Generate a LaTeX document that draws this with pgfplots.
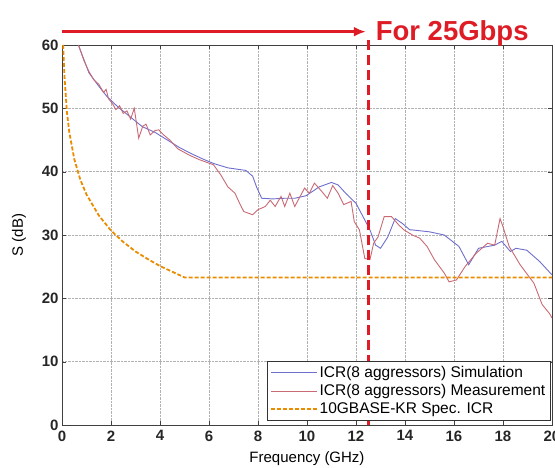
\documentclass[border=0pt]{standalone}
\usepackage{fontspec}
\setmainfont{Liberation Sans}
\usepackage{pgfplots}
\pgfplotsset{compat=1.18}
\usetikzlibrary{arrows.meta}
\definecolor{simblue}{RGB}{110,110,205}
\definecolor{measred}{RGB}{200,105,115}
\definecolor{specorange}{RGB}{235,140,0}
\definecolor{markred}{RGB}{222,28,38}
\begin{document}
\begin{tikzpicture}
\begin{axis}[
  scale only axis,
  width=490pt, height=380pt,
  xmin=0, xmax=20, ymin=0, ymax=60,
  xtick={0,2,...,20}, ytick={0,10,...,60},
  grid=major,
  major grid style={densely dotted, gray!60, line width=0.7pt},
  axis line style={black!75, line width=0.8pt},
  tick align=inside, major tick length=4pt,
  tick style={black!75},
  /pgf/number format/assume math mode=true,
  ticklabel style={font=\bfseries\fontsize{15}{17}\selectfont, text=black!85},
  xticklabel style={yshift=-2pt},
  xlabel={Frequency (GHz)}, ylabel={S (dB)},
  label style={font=\fontsize{15}{17}\selectfont},
  xlabel style={yshift=-4pt},
  ylabel style={yshift=9pt},
  clip mode=individual,
  legend style={at={(0.997,0.012)}, anchor=south east, draw=black!80, fill=white,
    font=\fontsize{15.5}{18}\selectfont, row sep=1.5pt, inner sep=3pt, cells={anchor=west}},
  legend image code/.code={\draw[#1] plot coordinates {(0cm,0cm) (1.6cm,0cm)};},
]
\addplot[simblue, line width=0.9pt] coordinates {
(0.67,60) (1.1,55.6) (1.5,53.5) (1.83,51.9) (2.26,50.3) (2.8,48.6) (3.28,47.1) (3.8,46.2)
(4.3,45.0) (4.8,43.8) (5.3,42.8) (5.75,42.0) (6.18,41.3) (6.77,40.6) (7.5,40.2) (7.78,39.3)
(7.95,37.5) (8.15,35.8) (8.6,35.7) (9.09,35.8) (9.5,35.8) (9.96,36.2) (10.5,37.6) (11.0,38.3)
(11.27,37.9) (11.6,36.5) (12.0,35.0) (12.3,32.8) (12.57,30.8) (12.8,28.4) (13.0,27.9) (13.3,29.7)
(13.6,32.6) (13.9,31.8) (14.2,30.8) (14.3,30.8) (15.0,30.5) (15.6,30.0) (16.2,28.2) (16.6,25.3)
(17.0,27.9) (17.66,28.4) (17.95,29.0) (18.3,27.4) (18.53,27.9) (18.97,27.6) (19.5,25.8) (20,23.7)
};
\addlegendentry{ICR(8 aggressors) Simulation}
\addplot[measred, line width=0.9pt] coordinates {
(0.67,60) (0.9,57.5) (1.1,55.8) (1.3,54.5) (1.5,53.8) (1.7,52.5) (1.8,53.0) (1.9,51.5)
(2.05,50.8) (2.2,49.8) (2.35,50.4) (2.5,49.2) (2.65,49.6) (2.8,48.3) (2.95,50.0) (3.13,45.3)
(3.3,47.2) (3.43,47.5) (3.6,45.8) (3.8,46.5) (3.95,46.6) (4.15,45.8) (4.4,45.0) (4.73,43.6)
(5.2,42.6) (5.6,41.9) (6.18,41.1) (6.48,39.5) (6.77,37.6) (7.06,36.6) (7.25,35.0) (7.42,33.7)
(7.78,33.2) (8.0,34.0) (8.3,34.5) (8.5,35.5) (8.7,34.5) (8.94,36.1) (9.09,34.5) (9.3,36.6)
(9.5,34.5) (9.9,37.4) (10.1,36.6) (10.3,38.2) (10.6,36.9) (10.83,35.8) (11.05,37.8) (11.27,36.6)
(11.5,34.8) (11.8,35.3) (11.93,32.1) (12.14,30.8) (12.36,26.3) (12.57,26.1) (12.72,28.7) (12.9,29.7)
(13.15,32.9) (13.45,32.9) (13.74,31.6) (13.96,30.8) (14.3,30.0) (14.6,29.5) (14.9,28.2) (15.2,26.1)
(15.6,24.0) (15.8,22.6) (16.1,22.9) (16.45,25.0) (16.9,27.1) (17.37,28.7) (17.66,28.4) (17.88,32.6)
(18.0,31.3) (18.25,28.2) (18.7,25.3) (19.26,22.4) (19.6,19.0) (19.9,17.6) (20,16.9)
};
\addlegendentry{ICR(8 aggressors) Measurement}
\addplot[specorange, line width=1.8pt, dash pattern=on 4pt off 2pt] coordinates {
(0.046,60) (0.1,55.1) (0.2,49.4) (0.3,46.2) (0.5,42.0) (0.75,38.7) (1,36.4) (1.5,33.1)
(2,30.7) (2.5,28.9) (3,27.4) (3.5,26.2) (4,25.1) (4.5,24.2) (5,23.3) (20,23.3)
};
\addlegendentry{10GBASE-KR Spec. ICR}
\draw[markred, line width=2.6pt, dash pattern=on 10pt off 5pt] (axis cs:12.5,0) -- (axis cs:12.5,60.8);
\draw[markred, line width=2.6pt, -{Latex[length=12pt,width=10pt]}] (axis cs:0,62.1) -- (axis cs:12.4,62.1);
\node[anchor=west, text=markred, font=\bfseries\fontsize{27.5}{30}\selectfont, inner sep=0pt] at (axis cs:12.8,61.9) {For 25Gbps};
\end{axis}
\pgfresetboundingbox
\path ([xshift=-62pt,yshift=-43pt]current axis.south west) rectangle ([xshift=3pt,yshift=45pt]current axis.north east);
\end{tikzpicture}
\end{document}
